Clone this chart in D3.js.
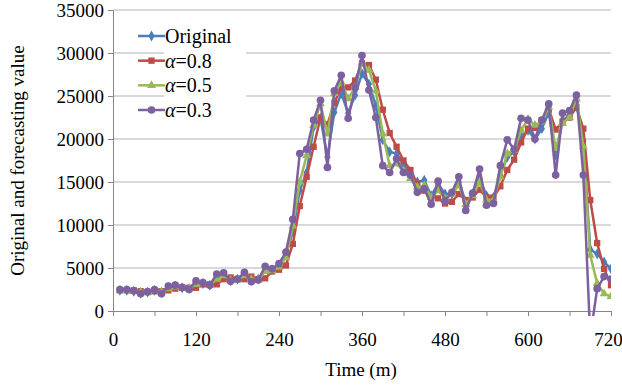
<!DOCTYPE html>
<html>
<head>
<meta charset="utf-8">
<script src="https://cdn.jsdelivr.net/npm/d3@7"></script>
<style>
  body { margin: 0; background: #fff; }
  svg { display: block; }
  svg text { font-family: "Liberation Serif", "Times New Roman", serif; }
</style>
</head>
<body>
<svg id="chart" width="622" height="385"></svg>
<script>
// time in minutes, one reading every 10 minutes
const minutes = [10, 20, 30, 40, 50, 60, 70, 80, 90, 100, 110, 120,
  130, 140, 150, 160, 170, 180, 190, 200, 210, 220, 230, 240,
  250, 260, 270, 280, 290, 300, 310, 320, 330, 340, 350, 360,
  370, 380, 390, 400, 410, 420, 430, 440, 450, 460, 470, 480,
  490, 500, 510, 520, 530, 540, 550, 560, 570, 580, 590, 600,
  610, 620, 630, 640, 650, 660, 670, 680, 690, 700, 710, 720];

const original = [2400, 2400, 2300, 2100, 2200, 2400, 2200, 2700, 2900, 2700, 2600, 3300,
  3200, 3000, 4000, 4200, 3500, 3700, 4300, 3600, 3700, 4900, 4800, 5300,
  6500, 9200, 14000, 16100, 21400, 22400, 17900, 23100, 25300, 23000, 25100, 27600,
  26400, 23900, 19900, 18500, 18300, 17100, 15900, 15000, 15200, 13400, 14800, 13600,
  13600, 15000, 12700, 13600, 15400, 13400, 13200, 15800, 17900, 18500, 20300, 21000,
  20000, 21200, 23100, 18100, 22200, 22700, 24300, 19800, 7150, 6650, 5700, 4900];

const alpha08 = [2400, 2400, 2400, 2300, 2200, 2300, 2300, 2400, 2600, 2700, 2700, 2700,
  3100, 3100, 3100, 3700, 3900, 3700, 3700, 4000, 3700, 3800, 4600, 4800,
  5300, 7800, 12200, 15600, 19100, 22500, 21700, 24200, 26000, 26000, 26800, 28800,
  28600, 26900, 23400, 20700, 19100, 17500, 16400, 14800, 14000, 13100, 13100, 12500,
  12700, 13600, 12900, 13200, 14100, 13200, 13200, 14500, 16400, 17600, 19600, 21200,
  21300, 22200, 23500, 21100, 22000, 22500, 23700, 21200, 12900, 7900, 4900, 3000];

const alpha05 = [2400, 2400, 2300, 2200, 2200, 2400, 2200, 2600, 2800, 2700, 2600, 3100,
  3200, 3000, 3700, 4100, 3600, 3600, 4100, 3700, 3600, 4600, 4700, 5100,
  6200, 9900, 15000, 18100, 21600, 24100, 20600, 25300, 26600, 24700, 26000, 28900,
  28000, 25600, 20600, 16900, 17100, 16300, 15400, 14400, 14600, 13200, 14000, 13100,
  13600, 14600, 12400, 13400, 15000, 12900, 12900, 15600, 18300, 18700, 21000, 22300,
  21600, 22000, 23700, 18900, 21800, 22500, 24700, 19100, 6500, 3200, 2000, 1700];

const alpha03 = [2500, 2500, 2350, 2000, 2250, 2500, 2000, 2900, 3000, 2750, 2500, 3500,
  3300, 3000, 4300, 4450, 3450, 3700, 4500, 3400, 3600, 5200, 4900, 5500,
  6850, 10650, 18300, 18800, 22200, 24500, 16700, 25600, 27400, 22400, 26000, 29700,
  25700, 22500, 16900, 16100, 17700, 16100, 15800, 13800, 14200, 12400, 15100, 12800,
  13800, 15600, 11700, 13700, 16500, 12300, 12500, 16900, 19900, 18800, 22400, 22200,
  20000, 22200, 24100, 15800, 23000, 23300, 25100, 15800, -3000, 2600, 4000, 3700];

const xLabelTicks = [0, 120, 240, 360, 480, 600, 720];
const xTicks = [0, 60, 120, 180, 240, 300, 360, 420, 480, 540, 600, 660, 720];
const yTicks = [0, 5000, 10000, 15000, 20000, 25000, 30000, 35000];
const seriesNames = ['Original', '0.8', '0.5', '0.3'];

const series = [
  { name: seriesNames[0], values: original, color: '#4a7ebb', symbol: d3.symbolDiamond, size: 34 },
  { name: seriesNames[1], values: alpha08, color: '#be4b48', symbol: d3.symbolSquare, size: 40 },
  { name: seriesNames[2], values: alpha05, color: '#98b954', symbol: d3.symbolTriangle, size: 34 },
  { name: seriesNames[3], values: alpha03, color: '#7d60a0', symbol: d3.symbolCircle, size: 46 },
];

const svg = d3.select('#chart');
const margin = { top: 10, right: 11, bottom: 74, left: 113 };
const width = 622, height = 385;

const x = d3.scaleLinear().domain([0, 720]).range([margin.left, width - margin.right]);
const y = d3.scaleLinear().domain([0, 35000]).range([height - margin.bottom, margin.top]);

// gridlines
svg.append('g')
  .selectAll('line')
  .data(yTicks.filter(d => d > 0))
  .join('line')
  .attr('x1', x(0)).attr('x2', x(720))
  .attr('y1', d => y(d)).attr('y2', d => y(d))
  .attr('stroke', '#b4b4b4')
  .attr('stroke-width', 1.2);

svg.append('g')
  .attr('transform', `translate(${margin.left},0)`)
  .call(d3.axisLeft(y).tickValues(yTicks).tickSize(5).tickPadding(4).tickSizeOuter(0).tickFormat(d3.format('d')))
  .attr('font-family', null)
  .call(g => g.selectAll('text').attr('font-size', 19).attr('fill', '#000'))
  .call(g => g.selectAll('line').attr('stroke', '#868686'))
  .call(g => g.select('.domain').attr('stroke', '#868686'));

svg.append('g')
  .attr('transform', `translate(0,${y(0)})`)
  .call(d3.axisBottom(x).tickValues(xTicks).tickSize(5).tickPadding(17).tickSizeOuter(0)
    .tickFormat(d => xLabelTicks.includes(d) ? d : ''))
  .attr('font-family', null)
  .call(g => g.selectAll('text').attr('font-size', 19).attr('fill', '#000'))
  .call(g => g.selectAll('text').filter(d => d === 720).attr('dx', -3))
  .call(g => g.selectAll('line').attr('stroke', '#868686'))
  .call(g => g.select('.domain').attr('stroke', '#868686'));

svg.append('text')
  .attr('x', 361).attr('y', 376)
  .attr('text-anchor', 'middle')
  .attr('font-size', 19)
  .text('Time (m)');

svg.append('text')
  .attr('transform', `translate(24,${(y(0) + y(35000)) / 2}) rotate(-90)`)
  .attr('text-anchor', 'middle')
  .attr('font-size', 19)
  .text('Original and forecasting value');

svg.append('clipPath').attr('id', 'plot-clip')
  .append('rect')
  .attr('x', x(0)).attr('y', 0)
  .attr('width', x(720) - x(0)).attr('height', y(0) + 5);

const line = d3.line()
  .x((d, i) => x(minutes[i]))
  .y(d => y(d));

const plot = svg.append('g').attr('clip-path', 'url(#plot-clip)');

series.forEach(s => {
  const g = plot.append('g');
  g.append('path')
    .datum(s.values)
    .attr('fill', 'none')
    .attr('stroke', s.color)
    .attr('stroke-width', 2.5)
    .attr('stroke-linejoin', 'round')
    .attr('d', line);
  g.selectAll('path.mark')
    .data(s.values)
    .join('path')
    .attr('class', 'mark')
    .attr('transform', (d, i) => `translate(${x(minutes[i])},${y(d)})`)
    .attr('d', d3.symbol(s.symbol, s.size))
    .attr('fill', s.color);
});

// legend
const legend = svg.append('g');
legend.append('rect')
  .attr('x', 164).attr('y', 22)
  .attr('width', 82).attr('height', 100)
  .attr('fill', '#fff');

const rowY = d3.scalePoint().domain(seriesNames).range([36, 110]);
series.forEach(s => {
  const ry = rowY(s.name);
  legend.append('line')
    .attr('x1', 138).attr('x2', 165)
    .attr('y1', ry).attr('y2', ry)
    .attr('stroke', s.color).attr('stroke-width', 2.5);
  legend.append('path')
    .attr('transform', `translate(151.5,${ry})`)
    .attr('d', d3.symbol(s.symbol, s.size))
    .attr('fill', s.color);
  const t = legend.append('text')
    .attr('x', 165).attr('y', ry).attr('dy', '0.35em')
    .attr('font-size', 20);
  if (s.name === 'Original') {
    t.text(s.name);
  } else {
    t.append('tspan').attr('font-style', 'italic').text('α');
    t.append('tspan').text('=' + s.name);
  }
});
</script>
</body>
</html>
